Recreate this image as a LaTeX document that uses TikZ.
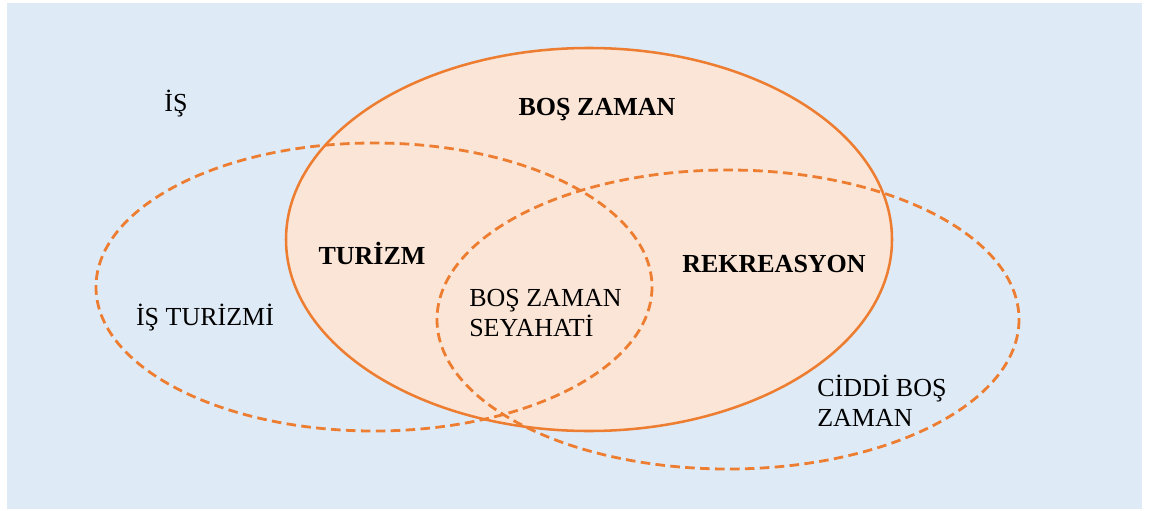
\documentclass[tikz,border=0pt]{standalone}
\usepackage{fontspec}
\setmainfont{Liberation Serif}
\begin{document}
\begin{tikzpicture}[x=0.75pt,y=-0.75pt,
  lbl/.style={inner sep=0pt,font=\fontsize{19.5}{22.5}\selectfont},
  blbl/.style={lbl,font=\fontsize{19.5}{22.5}\selectfont\bfseries},
  dashell/.style={draw=orangeline,line width=2.1pt,dash pattern=on 7.2pt off 4pt},
]
\definecolor{bgblue}{HTML}{DEEBF7}
\definecolor{peach}{HTML}{FBE5D6}
\definecolor{orangeline}{HTML}{ED7D31}
\useasboundingbox (0,0) rectangle (1151,510);
\fill[bgblue] (7,3) rectangle (1142,509);
% big solid ellipse
\path[fill=peach,draw=orangeline,line width=1.9pt] (589,239.5) ellipse [x radius=303, y radius=191.5];
% dashed ellipses
\path[dashell] (374,287) ellipse [x radius=278, y radius=144];
\path[dashell] (728,319.5) ellipse [x radius=291, y radius=149.5];
% labels
\node[lbl] (is) at (176,104) {İŞ};
\node[blbl] (bos) at (597,110) {BOŞ ZAMAN};
\node[blbl] (tur) at (372,253) {TURİZM};
\node[blbl] (rek) at (774,264) {REKREASYON};
\node[lbl] (istur) at (205,318) {İŞ TURİZMİ};
\node[lbl,align=left,anchor=west] (seyahat) at (469,313) {BOŞ ZAMAN\\SEYAHATİ};
\node[lbl,align=left,anchor=west] (ciddi) at (817,401) {CİDDİ BOŞ\\ZAMAN};
\end{tikzpicture}
\end{document}
